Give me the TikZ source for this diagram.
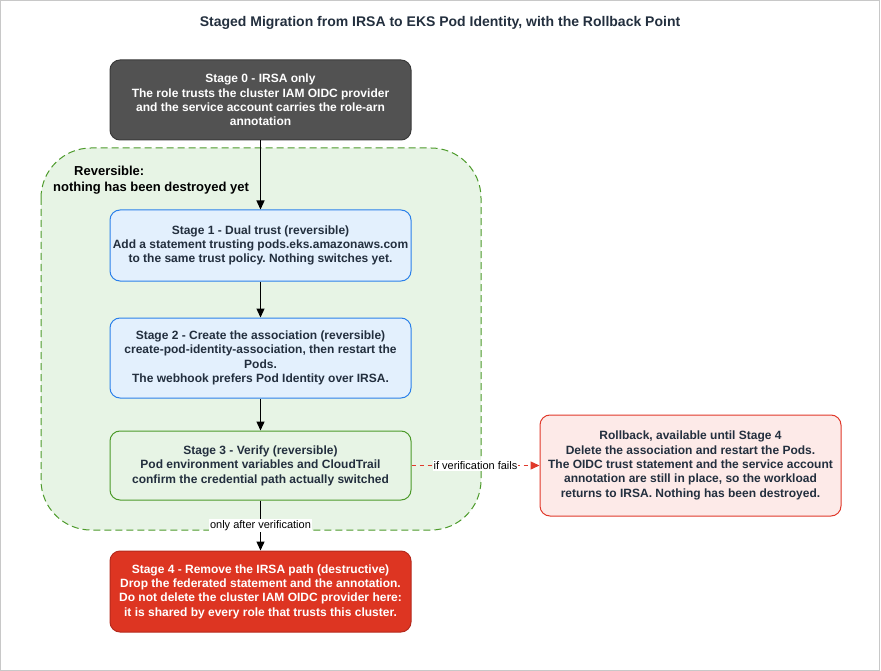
\documentclass[tikz,border=0pt]{standalone}
\usepackage{fontspec}
\setmainfont{Liberation Sans}
\usetikzlibrary{arrows.meta}
\frenchspacing
\definecolor{txt}{HTML}{232F3E}
\definecolor{darkfill}{HTML}{525252}
\definecolor{darkline}{HTML}{3A3A3A}
\definecolor{bluefill}{HTML}{E3F0FD}
\definecolor{blueline}{HTML}{2B80EA}
\definecolor{greenfill}{HTML}{E7F4E5}
\definecolor{greenline}{HTML}{4C9A2A}
\definecolor{redfill}{HTML}{DD3522}
\definecolor{redline}{HTML}{B52A1D}
\definecolor{rbfill}{HTML}{FDEAE8}
\definecolor{rbline}{HTML}{E0392B}
\definecolor{frame}{HTML}{C8C8C8}
\tikzset{
  box/.style={rectangle, rounded corners=10pt, line width=1pt, minimum width=301pt,
    align=center, inner sep=0pt,
    font=\fontsize{12}{14.4}\selectfont\bfseries\frenchspacing, text=txt},
  darkbox/.style={box, fill=darkfill, draw=darkline, text=white},
  bluebox/.style={box, fill=bluefill, draw=blueline},
  greenbox/.style={box, fill=greenfill, draw=greenline},
  redbox/.style={box, fill=redfill, draw=redline, text=white},
  rbbox/.style={box, fill=rbfill, draw=rbline},
  flow/.style={line width=1.3pt, draw=black, -{Triangle[length=9pt,width=8pt]}},
  failflow/.style={line width=1.3pt, draw=rbline, dash pattern=on 4pt off 4pt, -{Triangle[length=9pt,width=8pt]}},
  edgelabel/.style={fill=white, inner sep=1pt, font=\fontsize{11}{13}\selectfont, text=black}
}
\begin{document}
\begin{tikzpicture}[x=1pt,y=-1pt]
\useasboundingbox (0,0) rectangle (881,671);
\draw[frame, line width=1pt] (0.5,0.5) rectangle (879.5,670.5);
% title
\node[font=\fontsize{14}{16}\selectfont\bfseries, text=txt] (title) at (440,23) {Staged Migration from IRSA to EKS Pod Identity, with the Rollback Point};
% reversible region
\draw[fill=greenfill, draw=greenline, line width=1pt, dash pattern=on 7pt off 4pt, rounded corners=50pt] (41,148) rectangle (481,530);
\node[anchor=north west, align=left, inner sep=0pt, font=\fontsize{13}{15.5}\selectfont\bfseries, text=black] (rev) at (53,166) {\hspace*{21pt}Reversible:\\nothing has been destroyed yet};
% stages
\node[darkbox, minimum height=80pt] (s0) at (260.5,100) {Stage 0 - IRSA only\\The role trusts the cluster IAM OIDC provider\\and the service account carries the role-arn\\annotation};
\node[bluebox, minimum height=71pt] (s1) at (260.5,245.5) {Stage 1 - Dual trust (reversible)\\Add a statement trusting pods.eks.amazonaws.com\\to the same trust policy. Nothing switches yet.};
\node[bluebox, minimum height=80pt] (s2) at (260.5,358) {Stage 2 - Create the association (reversible)\\create-pod-identity-association, then restart the\\Pods.\\The webhook prefers Pod Identity over IRSA.};
\node[greenbox, minimum height=69pt] (s3) at (260.5,465.5) {Stage 3 - Verify (reversible)\\Pod environment variables and CloudTrail\\confirm the credential path actually switched};
\node[redbox, minimum height=81pt] (s4) at (260.5,591.5) {Stage 4 - Remove the IRSA path (destructive)\\Drop the federated statement and the annotation.\\Do not delete the cluster IAM OIDC provider here:\\it is shared by every role that trusts this cluster.};
\node[rbbox, minimum height=101pt] (rb) at (690.5,465.5) {Rollback, available until Stage 4\\Delete the association and restart the Pods.\\The OIDC trust statement and the service account\\annotation are still in place, so the workload\\returns to IRSA. Nothing has been destroyed.};
% connectors
\draw[flow] (s0) -- (s1);
\draw[flow] (s1) -- (s2);
\draw[flow] (s2) -- (s3);
\draw[flow] (s3) -- node[edgelabel, pos=0.5] {only after verification} (s4);
\draw[failflow] (s3) -- node[edgelabel, pos=0.5] {if verification fails} (rb);
\end{tikzpicture}
\end{document}
